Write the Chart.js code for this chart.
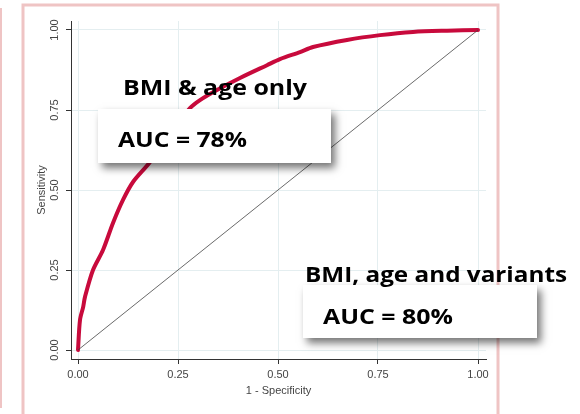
<!DOCTYPE html>
<html>
<head>
<meta charset="utf-8">
<script src="https://cdn.jsdelivr.net/npm/chart.js@4"></script>
<style>
  body { margin: 0; background: #fff; }
  #wrap { width: 580px; height: 414px; position: relative; }
</style>
</head>
<body>
<div id="wrap"><canvas id="roc"></canvas></div>
<script>
// ROC curve (1 - specificity, sensitivity)
const rocX = [0, 0.005, 0.013, 0.0175, 0.0375, 0.0625, 0.0875, 0.1125, 0.1375, 0.18, 0.23, 0.28, 0.305, 0.3475, 0.405, 0.4725, 0.505, 0.555, 0.5875, 0.6725, 0.755, 0.8375, 0.9225, 1];
const rocY = [0, 0.094, 0.135, 0.166, 0.25, 0.3125, 0.397, 0.469, 0.525, 0.5875, 0.68, 0.756, 0.781, 0.8125, 0.85, 0.89, 0.909, 0.931, 0.947, 0.969, 0.984, 0.994, 0.998, 1];
const refX = [0, 1];
const refY = [0, 1];
const xTicks = [0, 0.25, 0.5, 0.75, 1];
const yTicks = [0, 0.25, 0.5, 0.75, 1];

const rocPts = rocX.map((x, i) => ({ x: x, y: rocY[i] }));
const refPts = refX.map((x, i) => ({ x: x, y: refY[i] }));

const tickFont = { family: 'Liberation Sans', size: 11 };
const bold = "bold 21px 'Open Sans'";

// text stretched to the width it has on the slide
function fitText(c, txt, left, right, base) {
    const w = c.measureText(txt).width;
    c.save();
    c.translate(left, base);
    c.scale((right - left) / w, 1);
    c.fillText(txt, 0, 0);
    c.restore();
}

// boxes and labels drawn on top of the plot
const overlay = {
    id: 'overlay',
    afterDraw(chart) {
        const c = chart.ctx;
        c.save();
        // pink slide frame
        c.strokeStyle = '#efc4c4';
        c.lineWidth = 3;
        c.strokeRect(23, 5, 475, 420);
        c.fillStyle = '#efc4c4';
        c.fillRect(0, 8, 2, 400);

        // white boxes with shadow
        c.shadowColor = 'rgba(0,0,0,0.55)';
        c.shadowBlur = 8;
        c.shadowOffsetX = 4;
        c.shadowOffsetY = 5;
        c.fillStyle = '#fff';
        c.fillRect(98, 109, 233, 54);
        c.fillRect(303, 285, 234, 53);
        c.restore();

        c.save();
        c.fillStyle = '#000';
        c.font = bold;
        c.textBaseline = 'alphabetic';
        fitText(c, 'BMI & age only', 123, 307, 95);
        fitText(c, 'AUC = 78%', 118, 247, 147);
        fitText(c, 'BMI, age and variants', 305, 567, 282);
        fitText(c, 'AUC = 80%', 323, 453, 324);
        c.restore();
    }
};

new Chart(document.getElementById('roc'), {
    type: 'scatter',
    data: {
        datasets: [{
            label: 'reference',
            data: refPts,
            showLine: true,
            borderColor: '#444',
            borderWidth: 0.8,
            pointRadius: 0
        }, {
            label: 'ROC',
            data: rocPts,
            showLine: true,
            borderColor: '#c80a3c',
            borderWidth: 4,
            borderCapStyle: 'round',
            borderJoinStyle: 'round',
            pointRadius: 0,
            tension: 0.3
        }]
    },
    options: {
        responsive: true,
        maintainAspectRatio: false,
        animation: false,
        layout: { padding: { left: 22, right: 94, top: 21, bottom: 0 } },
        plugins: { legend: { display: false }, tooltip: { enabled: false } },
        scales: {
            x: {
                type: 'linear',
                min: -0.0175,
                max: 1.02,
                afterBuildTicks: s => { s.ticks = xTicks.map(v => ({ value: v })); },
                afterFit: s => { s.height = 55; },
                grid: { color: '#e4eef0', tickColor: '#333', tickLength: 5 },
                border: { display: true, color: '#333', width: 1 },
                ticks: { color: '#444', font: tickFont, padding: 4, callback: v => v.toFixed(2) },
                title: { display: true, text: '1 - Specificity', color: '#444', font: tickFont, padding: { top: 0, bottom: 16 } }
            },
            y: {
                type: 'linear',
                min: -0.028125,
                max: 1.028125,
                afterBuildTicks: s => { s.ticks = yTicks.map(v => ({ value: v })); },
                afterFit: s => { s.width = 49; },
                grid: { color: '#e4eef0', tickColor: '#333', tickLength: 5 },
                border: { display: true, color: '#333', width: 1 },
                ticks: { color: '#444', font: tickFont, padding: 0, minRotation: 90, maxRotation: 90, crossAlign: 'center', callback: v => v.toFixed(2) },
                title: { display: true, text: 'Sensitivity', color: '#444', font: tickFont, padding: { top: 13, bottom: 0 } }
            }
        }
    },
    plugins: [overlay]
});
</script>
</body>
</html>
